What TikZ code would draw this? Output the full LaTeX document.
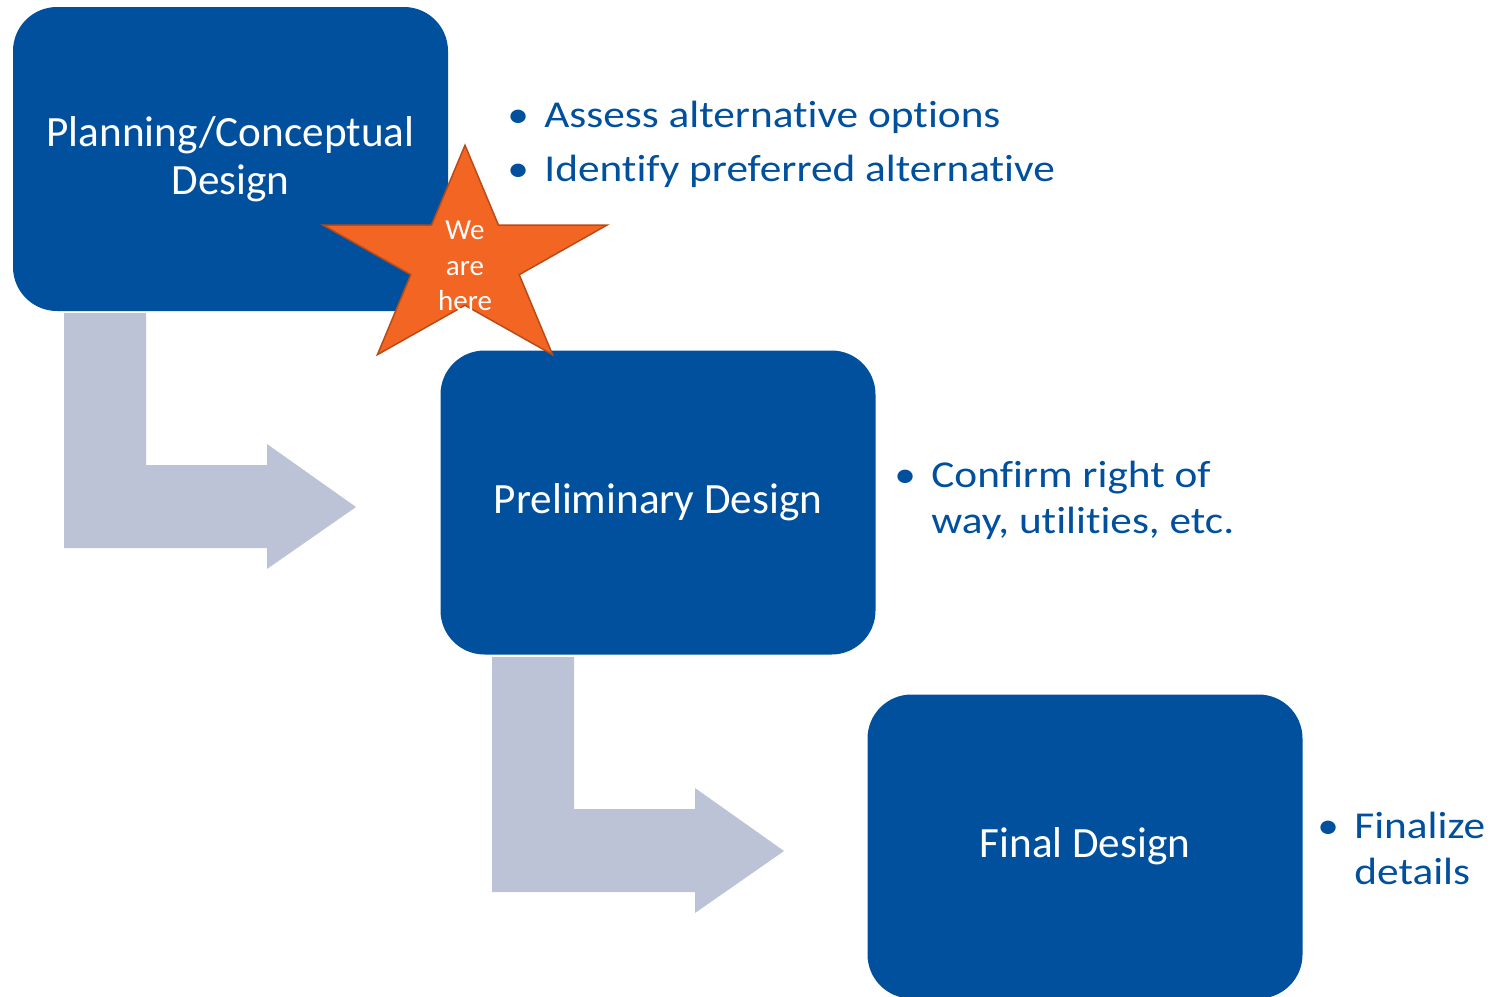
\documentclass[tikz,border=0pt]{standalone}
\usepackage{fontspec}
\setmainfont{Carlito}[Ligatures=NoCommon]
\newfontfamily\notefont{Carlito}[Ligatures=NoCommon,FakeStretch=1.14]
\usetikzlibrary{positioning}
\definecolor{stageblue}{RGB}{0,80,158}
\definecolor{arrowgray}{RGB}{188,195,214}
\definecolor{starorange}{RGB}{242,101,34}
\definecolor{stardark}{RGB}{188,74,22}
\newcommand{\bul}{\makebox[18.5pt][l]{\textbullet}}

\begin{document}
\begin{tikzpicture}[x=0.5pt,y=-0.5pt]
  \tikzstyle{stage}=[rectangle,rounded corners=22pt,fill=stageblue,text=white,
                     minimum width=217.5pt,minimum height=152pt,align=center,
                     font=\fontsize{21.6}{24}\selectfont]
  \tikzstyle{notes}=[text=stageblue,inner sep=0pt,anchor=base west,
                     font=\notefont\fontsize{19}{27}\selectfont]
  \tikzstyle{bentarrow}=[fill=arrowgray]
  \tikzstyle{herestar}=[fill=starorange,draw=stardark,line width=0.75pt,line join=miter]
  \useasboundingbox (0,0) rectangle (1493,996);

  % bent arrows between the stages
  \foreach \s in {0,1}
    \fill[bentarrow,shift={(\s*428,\s*344)}] (64,313) -- (146,313) -- (146,465)
      -- (267,465) -- (267,444) -- (356,507) -- (267,569) -- (267,548)
      -- (64,548) -- cycle;

  \node[stage] (plan)   at (230.5,159)  {Planning/Conceptual\\Design};
  \node[stage] (prelim) at (658,502.5)  {Preliminary Design};
  \node[stage] (final)  at (1085,846.5) {Final Design};

  \node[notes] (planlist) at (507,127)
    {\begin{tabular}[t]{@{}l@{}l@{}}\bul&Assess alternative options\\
     \bul&Identify preferred alternative\end{tabular}};
  \node[notes,font=\notefont\fontsize{19}{23}\selectfont] (prelimlist) at (894,487)
    {\begin{tabular}[t]{@{}l@{}l@{}}\bul&Confirm right of\\
     &way, utilities, etc.\end{tabular}};
  \node[notes,font=\notefont\fontsize{19}{23}\selectfont] (finallist) at (1317,838)
    {\begin{tabular}[t]{@{}l@{}l@{}}\bul&Finalize\\
     &details\end{tabular}};

  % we are here
  \draw[herestar] plot[samples at={0,...,9}]
    ({465+(103+46*cos(180*\x))*cos(90+36*\x)},
     {261-0.777*(103+46*cos(180*\x))*sin(90+36*\x)}) -- cycle;
  \node[text=white,align=center,font=\fontsize{14.5}{17.75}\selectfont] (here)
    at (465,266) {We\\are\\here};
\end{tikzpicture}
\end{document}
